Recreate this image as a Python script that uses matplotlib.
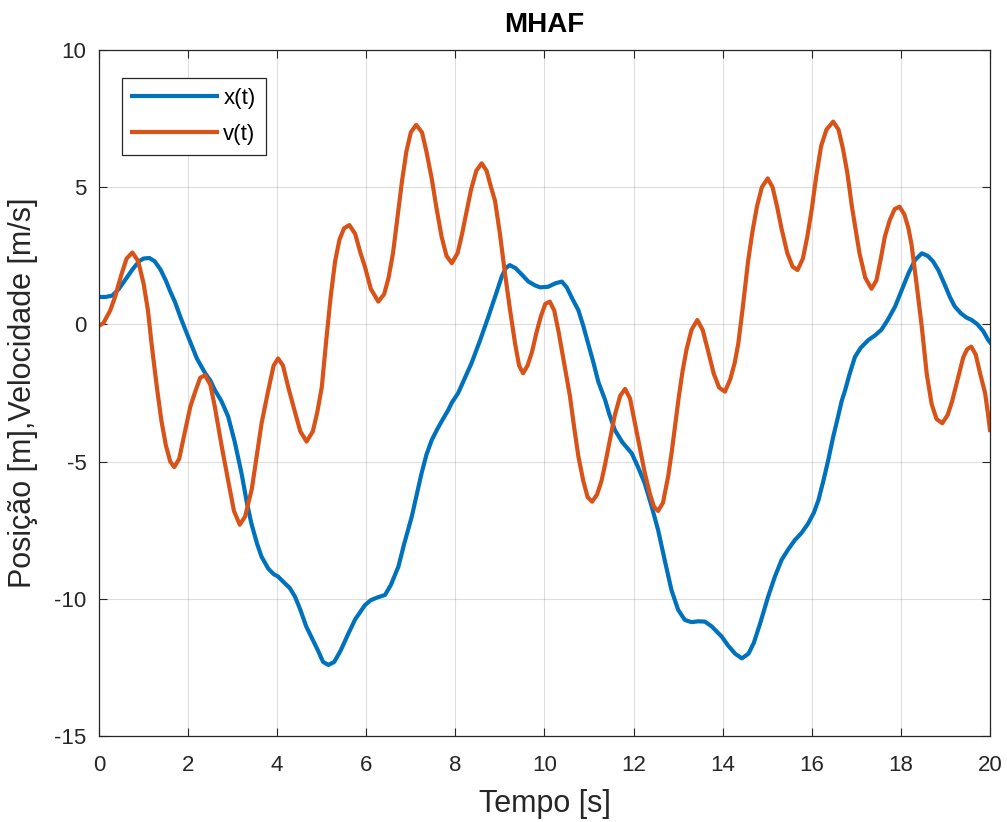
import matplotlib.pyplot as plt

# posição x(t) [m]
t_x = [0.0, 0.15, 0.3, 0.45, 0.6, 0.75, 0.9, 1.0, 1.13, 1.25, 1.38, 1.5, 1.6, 1.71, 1.82, 1.94,
       2.06, 2.2, 2.38, 2.5, 2.6, 2.75, 2.9, 3.05, 3.2, 3.32, 3.42, 3.55, 3.65, 3.8, 3.92, 4.02,
       4.15, 4.28, 4.4, 4.52, 4.65, 4.8, 4.92, 5.03, 5.15, 5.28, 5.42, 5.6, 5.75, 5.97, 6.1, 6.25,
       6.42, 6.55, 6.65, 6.72, 6.85, 7.02, 7.12, 7.24, 7.35, 7.47, 7.6, 7.72, 7.84, 7.92, 8.06,
       8.2, 8.36, 8.55, 8.74, 8.9, 9.04, 9.13, 9.22, 9.35, 9.5, 9.64, 9.79, 9.9, 10.08, 10.25,
       10.39, 10.5, 10.62, 10.76, 10.87, 10.98, 11.1, 11.21, 11.36, 11.46, 11.58, 11.75, 11.96,
       12.1, 12.25, 12.4, 12.55, 12.7, 12.85, 13.0, 13.15, 13.3, 13.45, 13.6, 13.75, 13.87, 13.98,
       14.12, 14.28, 14.43, 14.58, 14.7, 14.84, 15.02, 15.17, 15.32, 15.47, 15.62, 15.77, 15.92,
       16.05, 16.15, 16.26, 16.37, 16.48, 16.59, 16.67, 16.75, 16.85, 16.97, 17.1, 17.27, 17.42,
       17.56, 17.7, 17.87, 18.02, 18.17, 18.32, 18.47, 18.6, 18.72, 18.84, 18.97, 19.1, 19.21,
       19.35, 19.47, 19.59, 19.72, 19.85, 19.96, 20.0]
x_vals = [1.0, 1.0, 1.05, 1.3, 1.65, 2.0, 2.3, 2.4, 2.42, 2.3, 2.0, 1.6, 1.2, 0.8, 0.3, -0.2,
          -0.68, -1.25, -1.77, -2.05, -2.39, -2.8, -3.36, -4.3, -5.43, -6.5, -7.25, -8.0, -8.47,
          -8.9, -9.1, -9.19, -9.4, -9.6, -9.92, -10.4, -11.0, -11.5, -11.9, -12.3, -12.41, -12.3,
          -11.9, -11.26, -10.75, -10.23, -10.05, -9.95, -9.86, -9.5, -9.1, -8.83, -8.0, -7.01,
          -6.3, -5.43, -4.75, -4.21, -3.8, -3.45, -3.12, -2.85, -2.51, -2.0, -1.42, -0.6, 0.28,
          1.05, 1.74, 2.05, 2.16, 2.05, 1.8, 1.56, 1.42, 1.35, 1.37, 1.5, 1.56, 1.35, 0.95, 0.52,
          -0.05, -0.69, -1.4, -2.1, -2.75, -3.3, -3.85, -4.3, -4.7, -5.2, -5.79, -6.6, -7.49,
          -8.6, -9.68, -10.4, -10.77, -10.85, -10.82, -10.83, -11.0, -11.2, -11.38, -11.7, -12.0,
          -12.17, -12.0, -11.6, -10.9, -9.92, -9.2, -8.59, -8.2, -7.86, -7.6, -7.25, -6.85, -6.4,
          -5.7, -4.94, -4.1, -3.36, -2.8, -2.39, -1.8, -1.18, -0.85, -0.57, -0.4, -0.2, 0.15,
          0.65, 1.25, 1.86, 2.35, 2.59, 2.5, 2.3, 1.98, 1.5, 1.0, 0.65, 0.4, 0.25, 0.16, 0.0,
          -0.25, -0.57, -0.65]

# velocidade v(t) [m/s]
t_v = [0.0, 0.1, 0.25, 0.36, 0.5, 0.62, 0.75, 0.88, 1.0, 1.1, 1.18, 1.3, 1.4, 1.5, 1.6, 1.69,
       1.8, 1.93, 2.05, 2.15, 2.27, 2.38, 2.5, 2.6, 2.75, 2.9, 3.03, 3.16, 3.28, 3.43, 3.55, 3.65,
       3.8, 3.92, 4.02, 4.13, 4.25, 4.4, 4.52, 4.66, 4.8, 4.9, 5.0, 5.1, 5.2, 5.3, 5.4, 5.5, 5.62,
       5.75, 5.87, 5.97, 6.1, 6.27, 6.4, 6.5, 6.6, 6.7, 6.8, 6.9, 7.0, 7.12, 7.25, 7.35, 7.47,
       7.58, 7.69, 7.8, 7.92, 8.05, 8.15, 8.25, 8.35, 8.47, 8.59, 8.7, 8.8, 8.89, 9.0, 9.11, 9.22,
       9.34, 9.43, 9.52, 9.62, 9.72, 9.82, 9.92, 10.02, 10.12, 10.22, 10.32, 10.45, 10.57, 10.67,
       10.76, 10.87, 10.97, 11.07, 11.18, 11.28, 11.36, 11.47, 11.58, 11.7, 11.81, 11.92, 12.03,
       12.14, 12.25, 12.37, 12.46, 12.55, 12.66, 12.78, 12.86, 12.93, 13.01, 13.1, 13.19, 13.3,
       13.43, 13.55, 13.67, 13.8, 13.92, 14.05, 14.17, 14.27, 14.35, 14.45, 14.57, 14.67, 14.77,
       14.88, 15.01, 15.12, 15.22, 15.32, 15.45, 15.57, 15.68, 15.8, 15.9, 16.0, 16.1, 16.21,
       16.33, 16.48, 16.6, 16.7, 16.8, 16.9, 16.97, 17.07, 17.2, 17.34, 17.45, 17.55, 17.64,
       17.75, 17.86, 17.97, 18.08, 18.17, 18.24, 18.35, 18.47, 18.58, 18.69, 18.8, 18.93, 19.05,
       19.15, 19.29, 19.4, 19.49, 19.58, 19.68, 19.78, 19.89, 19.95, 20.0]
v_vals = [-0.05, 0.05, 0.5, 1.0, 1.8, 2.4, 2.62, 2.3, 1.5, 0.5, -0.7, -2.3, -3.5, -4.4, -5.0,
          -5.2, -4.9, -3.9, -3.0, -2.5, -1.95, -1.85, -2.2, -3.0, -4.4, -5.7, -6.8, -7.3, -7.0,
          -6.0, -4.7, -3.6, -2.4, -1.5, -1.24, -1.5, -2.3, -3.2, -3.9, -4.27, -3.9, -3.2, -2.3,
          -0.6, 1.0, 2.3, 3.1, 3.5, 3.62, 3.3, 2.6, 2.1, 1.3, 0.83, 1.1, 1.7, 2.6, 3.9, 5.2, 6.3,
          7.0, 7.27, 7.0, 6.3, 5.3, 4.2, 3.2, 2.5, 2.23, 2.6, 3.3, 4.1, 4.9, 5.6, 5.87, 5.6, 5.0,
          4.5, 3.3, 1.9, 0.6, -0.7, -1.5, -1.78, -1.5, -1.0, -0.3, 0.3, 0.75, 0.83, 0.5, -0.3,
          -1.5, -2.6, -3.8, -4.8, -5.7, -6.3, -6.46, -6.2, -5.7, -5.1, -4.2, -3.3, -2.6, -2.35,
          -2.7, -3.6, -4.5, -5.4, -6.2, -6.65, -6.8, -6.5, -5.5, -4.6, -3.7, -2.7, -1.7, -0.9,
          -0.2, 0.16, -0.2, -0.95, -1.8, -2.3, -2.45, -2.0, -1.4, -0.7, 0.6, 2.3, 3.4, 4.3, 5.0,
          5.32, 5.0, 4.3, 3.5, 2.6, 2.1, 1.98, 2.4, 3.2, 4.2, 5.4, 6.5, 7.1, 7.39, 7.1, 6.4, 5.5,
          4.3, 3.6, 2.6, 1.7, 1.3, 1.6, 2.4, 3.2, 3.8, 4.2, 4.29, 4.0, 3.5, 2.9, 1.5, -0.1, -1.8,
          -2.9, -3.45, -3.6, -3.3, -2.8, -1.9, -1.2, -0.9, -0.81, -1.1, -1.8, -2.5, -3.2, -3.85]

x_ticks = list(range(0, 21, 2))
y_ticks = [-15, -10, -5, 0, 5, 10]

plt.rcParams['font.family'] = ['Liberation Sans', 'DejaVu Sans']
plt.rcParams['axes.unicode_minus'] = False

fig = plt.figure(figsize=(10.07, 8.22), dpi=100)
ax = fig.add_axes([0.0983, 0.1046, 0.8848, 0.8346])

ax.plot(t_x, x_vals, color='#0072BD', lw=3.0, label='x(t)')
ax.plot(t_v, v_vals, color='#D95319', lw=3.0, label='v(t)')

ax.set_xlim(0, 20)
ax.set_ylim(-15, 10)
ax.set_xticks(x_ticks)
ax.set_yticks(y_ticks)
ax.grid(True, color='#262626', alpha=0.15, lw=0.8)
ax.tick_params(direction='in', top=True, right=True, length=6, width=0.8,
               labelsize=16, colors='#262626')
ax.tick_params(axis='x', pad=14)
ax.tick_params(axis='y', pad=9)
for s in ax.spines.values():
    s.set_color('#262626')
    s.set_linewidth(0.9)

ax.set_title('MHAF', fontsize=20, fontweight='bold', color='black', pad=13)
ax.set_xlabel('Tempo [s]', fontsize=22, color='#262626', labelpad=9)
ax.set_ylabel('Posição [m],Velocidade [m/s]', fontsize=22, color='#262626', labelpad=12)

leg = ax.legend(loc='upper left', bbox_to_anchor=(0.026, 0.959), borderaxespad=0,
                fancybox=False, edgecolor='#262626', framealpha=1, fontsize=16,
                handlelength=3.8, handletextpad=0.3, borderpad=0.45, labelspacing=0.65)
leg.get_frame().set_linewidth(0.9)

fig.savefig('out.png', dpi=100)
